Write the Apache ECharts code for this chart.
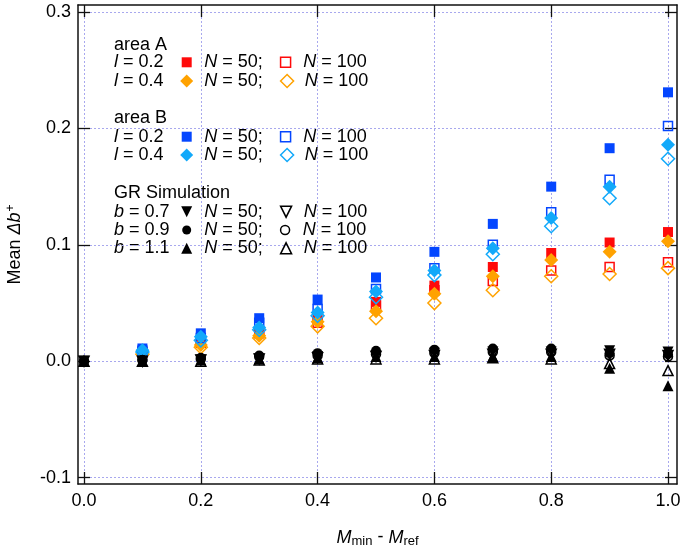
<!DOCTYPE html>
<html>
<head>
<meta charset="utf-8">
<script src="https://cdn.jsdelivr.net/npm/echarts@6/dist/echarts.min.js"></script>
<style>html,body{margin:0;padding:0;background:#fff;}#c{width:685px;height:551px;}</style>
</head>
<body>
<div id="c"></div>
<script>
// ---- data ----
const xValues = [0.0, 0.1, 0.2, 0.3, 0.4, 0.5, 0.6, 0.7, 0.8, 0.9, 1.0];
const xTicks = [0.0, 0.2, 0.4, 0.6, 0.8, 1.0];
const yTicks = [-0.1, 0.0, 0.1, 0.2, 0.3];

// area A
const areaA_l02_N50  = [null, 0.008, 0.017, 0.026, 0.037, 0.051, 0.065, 0.081, 0.093, 0.102, 0.111];
const areaA_l02_N100 = [null, 0.0075, 0.016, 0.024, 0.033, 0.048, 0.061, 0.069, 0.078, 0.081, 0.085];
const areaA_l04_N50  = [null, 0.007, 0.014, 0.022, 0.034, 0.043, 0.058, 0.073, 0.087, 0.094, 0.103];
const areaA_l04_N100 = [null, 0.006, 0.012, 0.020, 0.030, 0.037, 0.050, 0.061, 0.073, 0.075, 0.080];
// area B
const areaB_l02_N50  = [null, 0.011, 0.024, 0.037, 0.053, 0.072, 0.094, 0.118, 0.150, 0.183, 0.231];
const areaB_l02_N100 = [null, 0.009, 0.020, 0.033, 0.045, 0.062, 0.080, 0.100, 0.128, 0.156, 0.202];
const areaB_l04_N50  = [null, 0.0095, 0.021, 0.029, 0.042, 0.060, 0.078, 0.097, 0.123, 0.150, 0.186];
const areaB_l04_N100 = [null, 0.008, 0.018, 0.027, 0.039, 0.055, 0.074, 0.092, 0.116, 0.140, 0.174];
// GR simulation
const gr_b07_N50  = [0, 0.000, 0.001, 0.002, 0.004, 0.005, 0.007, 0.008, 0.008, 0.009, 0.008];
const gr_b07_N100 = [0, 0.000, 0.001, 0.002, 0.003, 0.004, 0.005, 0.006, 0.006, 0.006, 0.005];
const gr_b09_N50  = [0, 0.001, 0.003, 0.005, 0.007, 0.009, 0.010, 0.011, 0.011, 0.007, 0.006];
const gr_b09_N100 = [0, 0.001, 0.002, 0.004, 0.005, 0.006, 0.007, 0.008, 0.008, 0.005, 0.004];
const gr_b11_N50  = [0, 0.000, 0.001, 0.002, 0.003, 0.004, 0.004, 0.004, 0.004, -0.006, -0.021];
const gr_b11_N100 = [0, 0.000, 0.000, 0.001, 0.002, 0.002, 0.002, 0.003, 0.002, -0.002, -0.008];

// ---- styling ----
const FONT = 'Liberation Sans, Arial, Helvetica, sans-serif';
const RED = '#ff0a0a', ORANGE = '#ffa200', BLUE = '#0446ff', CYAN = '#12a9fa', BLACK = '#000000';
const DOWN_TRI = 'path://M0,0 L10,0 L5,10 Z';

function mk(name, vals, symbol, color, filled, size) {
  return {
    type: 'scatter', name: name,
    data: xValues.map((x, i) => [x, vals[i]]).filter(p => p[1] !== null),
    symbol: symbol, symbolSize: size, symbolKeepAspect: true,
    itemStyle: filled ? { color: color, opacity: 1 }
                      : { color: 'rgba(255,255,255,0)', borderColor: color, borderWidth: 1.5, opacity: 1 },
    emphasis: { disabled: true },
    animation: false
  };
}

const series = [
  mk('A l=0.2 N=50', areaA_l02_N50, 'rect', RED, true, 10),
  mk('A l=0.2 N=100', areaA_l02_N100, 'rect', RED, false, 9),
  mk('A l=0.4 N=50', areaA_l04_N50, 'diamond', ORANGE, true, 14),
  mk('A l=0.4 N=100', areaA_l04_N100, 'diamond', ORANGE, false, 13),
  mk('B l=0.2 N=50', areaB_l02_N50, 'rect', BLUE, true, 10),
  mk('B l=0.2 N=100', areaB_l02_N100, 'rect', BLUE, false, 9),
  mk('B l=0.4 N=50', areaB_l04_N50, 'diamond', CYAN, true, 14),
  mk('B l=0.4 N=100', areaB_l04_N100, 'diamond', CYAN, false, 13),
  mk('GR b=0.7 N=50', gr_b07_N50, DOWN_TRI, BLACK, true, 11),
  mk('GR b=0.7 N=100', gr_b07_N100, DOWN_TRI, BLACK, false, 10),
  mk('GR b=0.9 N=50', gr_b09_N50, 'circle', BLACK, true, 10),
  mk('GR b=0.9 N=100', gr_b09_N100, 'circle', BLACK, false, 9),
  mk('GR b=1.1 N=50', gr_b11_N50, 'triangle', BLACK, true, 11),
  mk('GR b=1.1 N=100', gr_b11_N100, 'triangle', BLACK, false, 10)
];

const legendRows = [
  { names: ['A l=0.2 N=50', 'A l=0.2 N=100'], cy: 62.3, size: 10 },
  { names: ['A l=0.4 N=50', 'A l=0.4 N=100'], cy: 81, size: 13 },
  { names: ['B l=0.2 N=50', 'B l=0.2 N=100'], cy: 136.7, size: 10 },
  { names: ['B l=0.4 N=50', 'B l=0.4 N=100'], cy: 155, size: 13 },
  { names: ['GR b=0.7 N=50', 'GR b=0.7 N=100'], cy: 211.7, size: 11 },
  { names: ['GR b=0.9 N=50', 'GR b=0.9 N=100'], cy: 230, size: 9 },
  { names: ['GR b=1.1 N=50', 'GR b=1.1 N=100'], cy: 248.3, size: 11 }
];
const markerCx = 186.7, textX = 204.3;

const legends = legendRows.map(r => ({
  show: true, orient: 'horizontal', selectedMode: false,
  left: markerCx - r.size / 2, top: r.cy - 9, padding: 0,
  itemWidth: r.size, itemHeight: r.size, itemGap: 17,
  data: r.names.map(n => {
    const s = series.find(q => q.name === n);
    return { name: n, icon: s.symbol, itemStyle: Object.assign({}, s.itemStyle) };
  }),
  formatter: n => n.endsWith('N=50') ? '{i|N} = 50;' : '{i|N} = 100',
  textStyle: {
    fontFamily: FONT, fontSize: 18, color: '#000', lineHeight: 18,
    padding: [0, 0, 0, textX - (markerCx - r.size / 2) - r.size - 5],
    rich: { i: { fontStyle: 'italic', fontFamily: FONT, fontSize: 18 } }
  }
}));

const labelRich = { i: { fontStyle: 'italic', fontFamily: FONT, fontSize: 18, fill: '#000' } };
function txt(text, y) {
  return { type: 'text', x: 114, y: y, silent: true,
    style: { text: text, fontFamily: FONT, fontSize: 18, fill: '#000', verticalAlign: 'middle', rich: labelRich } };
}
const graphics = [
  txt('area A', 45), txt('{i|l} = 0.2', 62.3), txt('{i|l} = 0.4', 81),
  txt('area B', 118.3), txt('{i|l} = 0.2', 136.7), txt('{i|l} = 0.4', 155),
  txt('GR Simulation', 192.7), txt('{i|b} = 0.7', 211.7), txt('{i|b} = 0.9', 230), txt('{i|b} = 1.1', 248.3)
];

const gridLine = { show: true, lineStyle: { color: '#a8a8ee', width: 1, type: [2, 2] } };
const frameLine = { show: true, onZero: false, lineStyle: { color: '#111', width: 1.5 } };
const tickIn = { show: true, inside: true, length: 12, lineStyle: { color: '#111', width: 1.3 } };

const X_MIN = -0.0103, X_MAX = 1.0154, Y_MIN = -0.1054, Y_MAX = 0.306;

const option = {
  backgroundColor: '#fff',
  animation: false,
  grid: { left: 78, right: 8, top: 5, bottom: 67, containLabel: false, outerBoundsMode: 'none' },
  xAxis: [
    { type: 'value', min: X_MIN, max: X_MAX, position: 'bottom',
      axisLine: frameLine,
      axisTick: Object.assign({ customValues: xTicks }, tickIn),
      axisLabel: { customValues: xTicks, formatter: v => v.toFixed(1), fontFamily: FONT, fontSize: 18, color: '#000', margin: 8 },
      splitLine: Object.assign({}, gridLine),
      name: '{i|M}{s|min}{n| - }{i|M}{s|ref}', nameLocation: 'middle', nameGap: 43,
      nameTextStyle: { fontFamily: FONT, fontSize: 18, color: '#000',
        rich: { i: { fontStyle: 'italic', fontSize: 18, fontFamily: FONT },
                n: { fontSize: 18, fontFamily: FONT },
                s: { fontSize: 13, fontFamily: FONT, verticalAlign: 'bottom', padding: [8, 0, 0, 0] } } } },
    { type: 'value', min: X_MIN, max: X_MAX, position: 'top',
      axisLine: frameLine,
      axisTick: Object.assign({ customValues: xTicks }, tickIn),
      axisLabel: { show: false }, splitLine: { show: false } }
  ],
  yAxis: [
    { type: 'value', min: Y_MIN, max: Y_MAX, position: 'left',
      axisLine: frameLine,
      axisTick: Object.assign({ customValues: yTicks }, tickIn),
      axisLabel: { customValues: yTicks, formatter: v => v.toFixed(1), fontFamily: FONT, fontSize: 18, color: '#000', margin: 7 },
      splitLine: Object.assign({}, gridLine),
      name: '{n|Mean }{i|Δb}{s|+}', nameLocation: 'middle', nameGap: 53, nameRotate: 90,
      nameTextStyle: { fontFamily: FONT, fontSize: 18, color: '#000',
        rich: { i: { fontStyle: 'italic', fontSize: 18, fontFamily: FONT },
                n: { fontSize: 18, fontFamily: FONT },
                s: { fontSize: 12, fontFamily: FONT, verticalAlign: 'top', padding: [0, 0, 8, 1] } } } },
    { type: 'value', min: Y_MIN, max: Y_MAX, position: 'right',
      axisLine: frameLine,
      axisTick: Object.assign({ customValues: yTicks }, tickIn),
      axisLabel: { show: false }, splitLine: { show: false } }
  ],
  legend: legends,
  graphic: graphics,
  series: series
};

const chart = echarts.init(document.getElementById('c'), null, { renderer: 'canvas' });
chart.setOption(option);
</script>
</body>
</html>
